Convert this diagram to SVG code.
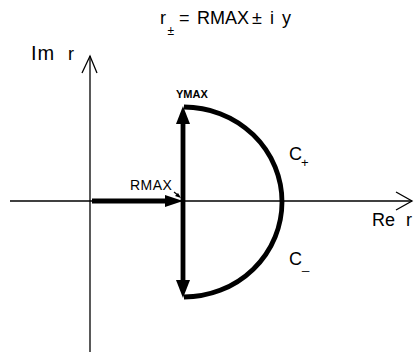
<svg xmlns="http://www.w3.org/2000/svg" width="415" height="352" viewBox="0 0 415 352">
<style>
text{font-family:"Liberation Sans",Arial,sans-serif;fill:#000}
.lbl{font-size:18px}
.axis{stroke:#000;stroke-width:1.3;fill:none}
.thick{stroke:#000;stroke-width:4.8;fill:none}
.head{fill:#000;stroke:none}
</style>
<rect width="415" height="352" fill="#fff"/>
<g id="title">
<text class="lbl" x="160" y="24">r</text>
<text x="167.5" y="35" font-size="12">±</text>
<text class="lbl" x="179" y="24">=</text>
<text class="lbl" x="197" y="24">RMAX</text>
<text class="lbl" x="252" y="24">±</text>
<text class="lbl" x="270" y="24">i</text>
<text class="lbl" x="282" y="24">y</text>
</g>
<g id="connectors">
<g id="imaxis">
<line class="axis" x1="90" y1="56" x2="90" y2="352"/>
<polyline class="axis" points="82,73 90,56 97,73"/>
</g>
<g id="reaxis">
<line class="axis" x1="10" y1="201" x2="412" y2="201"/>
<polyline class="axis" points="396,192 412,201 396,210"/>
</g>
<g id="rmaxvec">
<line class="thick" x1="92" y1="201" x2="168" y2="201"/>
<polygon class="head" points="183,201 165,195 165,207"/>
<line stroke="#000" stroke-width="1.2" x1="174" y1="192" x2="179" y2="196"/>
<polygon class="head" points="181,198 175,196 178,193"/>
</g>
<g id="vertical">
<line class="thick" x1="183" y1="122" x2="183" y2="282"/>
<polygon class="head" points="183,106 176,124 190,124"/>
<polygon class="head" points="183,298 176,280 190,280"/>
</g>
<g id="arc">
<path class="thick" d="M184,107 A98,95 0 0 1 184,297"/>
</g>
</g>
<g id="labels">
<text x="31" y="60" font-size="20" letter-spacing="1">Im</text>
<text class="lbl" x="68" y="60">r</text>
<text class="lbl" x="372" y="226">Re</text>
<text class="lbl" x="406" y="226">r</text>
<text class="lbl" x="289" y="160">C</text>
<text x="301" y="167" font-size="13">+</text>
<text class="lbl" x="289" y="265">C</text>
<text x="302" y="269" font-size="13">_</text>
<text x="176" y="98" font-weight="bold" font-size="11">YMAX</text>
<text x="130" y="190" font-size="14" letter-spacing="0.5">RMAX</text>
</g>
</svg>
